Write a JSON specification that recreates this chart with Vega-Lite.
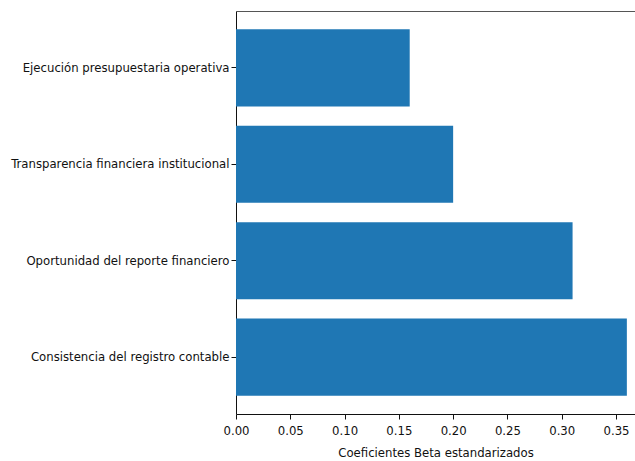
{
  "$schema": "https://vega.github.io/schema/vega-lite/v6.json",
  "width": 399,
  "height": 403,
  "autosize": {"type": "none"},
  "padding": {"left": 236, "top": 11, "right": 0, "bottom": 47},
  "background": "white",
  "config": {
    "view": {"stroke": null},
    "font": "DejaVu Sans Condensed, Liberation Sans Narrow, DejaVu Sans",
    "axis": {"labelFont": "DejaVu Sans Condensed, Liberation Sans Narrow, DejaVu Sans", "titleFont": "DejaVu Sans Condensed, Liberation Sans Narrow, DejaVu Sans"}
  },
  "data": {
    "values": [
      {"factor": "Ejecución presupuestaria operativa", "beta": 0.16},
      {"factor": "Transparencia financiera institucional", "beta": 0.20},
      {"factor": "Oportunidad del reporte financiero", "beta": 0.31},
      {"factor": "Consistencia del registro contable", "beta": 0.36}
    ]
  },
  "layer": [
    {
      "mark": {"type": "bar", "color": "#1f77b4"},
      "encoding": {
        "y": {
          "field": "factor", "type": "nominal", "sort": null,
          "scale": {"paddingInner": 0.2, "paddingOuter": 0.19},
          "axis": {
            "title": null, "labelFontSize": 13, "labelColor": "#111",
            "tickSize": 5, "tickColor": "#111", "domainColor": "#111",
            "labelPadding": 2, "labelLimit": 400
          }
        },
        "x": {
          "field": "beta", "type": "quantitative",
          "scale": {"domain": [0, 0.3675], "nice": false, "zero": true},
          "axis": {
            "orient": "bottom", "values": [0, 0.05, 0.1, 0.15, 0.2, 0.25, 0.3, 0.35],
            "format": ".2f", "grid": false, "labelFlush": false,
            "title": "Coeficientes Beta estandarizados",
            "titleFontSize": 13, "titleFontWeight": "normal", "titleColor": "#111",
            "labelFontSize": 13, "labelColor": "#111",
            "tickSize": 5, "tickColor": "#111", "domainColor": "#111",
            "labelPadding": 5, "titlePadding": 9
          }
        }
      }
    },
    {
      "mark": {"type": "bar", "opacity": 0},
      "encoding": {
        "x": {
          "field": "beta", "type": "quantitative",
          "axis": {"orient": "top", "labels": false, "ticks": false, "grid": false, "title": null, "domainColor": "#555"}
        }
      }
    }
  ],
  "resolve": {"axis": {"x": "independent"}}
}
